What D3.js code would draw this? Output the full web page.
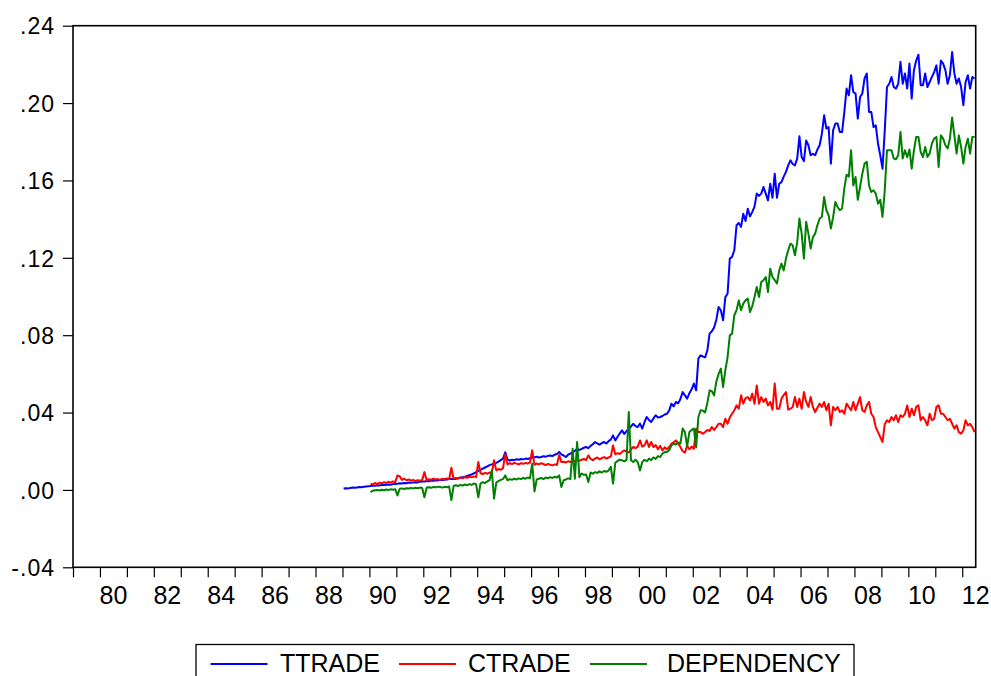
<!DOCTYPE html>
<html>
<head>
<meta charset="utf-8">
<script src="https://cdn.jsdelivr.net/npm/d3@7"></script>
<style>
  body { margin: 0; background: #fff; }
  svg { display: block; font-family: "Liberation Sans", Arial, sans-serif; }
</style>
</head>
<body>
<svg id="chart" width="991" height="676"></svg>
<script>
// Monthly observations, in thousandths (per mille); one row per calendar year.
const ttradeStart = 1989;   // TTRADE begins 1989M01
const ttrade = [
  0.7,0.9,0.8,1.0,1.2,1.1,1.3,1.5,1.4,1.6,1.8,1.9,
  2.0,2.2,2.1,2.4,2.3,2.6,2.5,2.7,2.8,2.7,3.0,3.1,
  3.2,3.4,3.3,3.6,3.5,3.8,3.7,3.9,4.0,3.9,4.2,4.3,
  4.4,4.6,4.5,4.8,4.7,5.0,4.9,5.2,5.1,5.3,5.4,5.6,
  5.6,5.8,5.7,6.0,6.3,6.6,6.8,7.2,7.6,8.0,8.6,9.2,
  9.8,10.4,11.0,11.6,12.2,12.8,13.2,13.6,14.0,14.6,15.4,16.2,
  19.5,15.8,15.2,15.6,15.4,15.9,15.6,16.0,15.8,16.2,16.0,16.4,
  16.6,16.9,17.2,16.8,17.0,17.4,17.2,17.6,17.8,17.5,18.2,18.6,
  19.6,18.4,17.8,17.0,18.2,18.8,19.5,20.2,21.3,20.6,21.2,21.8,
  22.2,21.6,22.8,23.6,24.8,24.0,23.4,24.2,24.8,24.0,25.2,26.0,
  28.2,25.6,27.5,29.2,30.8,29.0,30.4,31.6,32.8,34.2,33.0,32.5,
  34.3,31.7,35.0,37.7,36.2,35.1,37.0,38.6,37.4,37.7,38.2,39.0,
  39.4,41.0,44.6,43.2,45.5,44.8,47.0,50.6,48.9,47.2,50.0,52.0,
  55.0,51.5,67.9,69.6,69.0,68.5,72.2,80.8,82.0,84.0,88.0,94.6,
  92.9,87.7,99.7,101.4,119.6,120.5,123.9,136.8,138.0,136.0,142.8,139.0,
  145.4,141.4,143.7,146.5,153.2,152.0,153.2,156.6,153.2,149.7,158.3,151.0,
  163.5,151.0,158.3,159.1,162.0,164.4,167.8,170.4,168.5,167.8,171.3,182.8,
  172.1,170.0,180.7,178.2,173.0,173.8,173.0,176.0,178.2,184.2,193.7,186.8,
  187.6,168.7,185.9,189.4,189.4,185.0,185.0,195.4,207.5,204.0,214.4,205.7,
  204.9,192.0,203.1,204.9,212.7,215.3,195.4,195.4,187.6,188.5,179.0,173.0,
  166.1,185.9,208.3,210.0,213.5,208.3,207.5,210.0,221.3,210.0,215.3,207.5,
  220.4,202.3,217.0,222.0,225.0,209.2,209.2,215.3,208.3,210.9,213.5,216.0,
  219.5,210.0,222.0,220.4,217.0,210.0,214.4,226.4,215.3,210.0,212.7,208.3,
  198.9,210.9,214.4,207.5,213.5,212.7
];

const ctradeStart = 1990;   // CTRADE begins 1990M01
const ctrade = [
  3.3,2.8,3.6,3.0,3.8,3.4,4.0,3.6,4.2,3.8,4.4,4.0,
  7.5,7.0,5.2,5.8,5.0,5.4,4.8,5.2,4.6,5.0,4.8,5.2,
  9.2,5.0,5.6,5.2,5.8,5.4,5.6,5.2,5.8,5.5,6.0,5.6,
  11.5,5.8,6.2,5.9,6.5,6.0,6.6,6.3,6.8,6.5,7.0,6.6,
  14.4,8.6,8.2,8.8,8.4,9.0,8.6,15.3,10.1,10.8,10.4,11.2,
  18.5,13.2,13.8,13.4,14.0,13.6,13.2,13.8,13.5,14.0,13.6,14.2,
  20.5,13.0,13.6,13.2,13.8,13.4,12.8,13.5,13.0,12.7,13.2,12.9,
  18.0,14.4,14.6,14.2,14.8,14.4,15.2,14.8,15.4,15.0,15.6,16.0,
  15.4,17.9,16.0,15.4,16.2,16.8,15.8,16.4,17.0,16.2,16.8,17.2,
  23.0,18.4,19.0,18.6,19.6,20.5,19.8,19.4,21.0,22.2,21.6,22.4,
  25.6,22.4,23.0,25.6,22.2,24.8,22.2,23.2,21.0,22.8,20.4,22.0,
  21.0,22.2,23.9,24.6,25.6,24.0,22.2,20.0,19.3,22.8,21.0,22.4,
  21.3,31.7,29.9,29.9,29.0,29.9,31.0,30.5,32.5,31.0,32.5,34.2,
  34.2,32.5,36.8,34.2,37.5,39.4,41.2,43.7,42.0,48.9,44.6,47.5,
  48.0,46.3,49.8,44.6,54.0,44.6,48.0,45.5,47.2,43.7,45.5,41.5,
  55.0,42.0,42.0,47.2,49.0,50.6,41.5,42.0,42.9,48.0,42.9,47.2,
  42.0,50.6,45.5,42.9,48.0,42.9,40.3,42.5,44.6,42.9,45.5,41.2,
  44.6,33.4,42.9,41.2,42.9,40.3,41.2,39.4,44.6,42.9,41.2,45.5,
  41.2,44.6,48.0,41.2,40.3,43.7,45.5,39.4,37.7,32.5,29.9,27.3,
  24.8,34.0,36.0,35.1,37.7,36.0,38.6,35.1,38.6,37.7,39.4,43.7,
  37.7,42.0,38.6,42.9,43.7,36.0,37.7,36.0,33.4,39.4,36.0,36.8,
  42.9,43.7,39.4,39.4,37.7,36.0,36.8,34.2,31.7,33.4,29.9,29.1,
  30.8,36.0,33.4,34.2,32.5,29.9
];

const dependencyStart = 1990;   // DEPENDENCY begins 1990M01
const dependency = [
  -1.1,-0.4,-0.2,0.0,-0.3,0.1,-0.2,0.2,0.0,0.3,0.1,0.4,
  -2.8,0.6,0.8,0.5,0.9,0.7,1.0,0.8,1.1,0.9,1.2,1.0,
  -3.8,1.2,1.4,1.1,1.6,1.3,1.7,1.5,1.2,1.6,1.4,1.8,
  -5.2,2.0,2.4,2.0,2.6,2.2,2.8,2.4,3.0,2.6,3.3,3.0,
  -3.8,3.4,4.0,3.6,4.4,5.0,10.0,-4.5,3.8,4.6,5.2,5.6,
  7.5,5.0,5.6,5.2,5.8,5.4,6.0,5.6,6.2,5.8,6.4,6.0,
  13.6,-0.8,5.4,5.8,6.2,5.6,6.4,6.0,6.6,6.2,6.8,6.4,
  7.5,1.5,5.0,5.4,6.0,5.6,21.3,5.8,24.8,6.6,8.5,7.8,
  8.0,4.1,9.0,8.4,9.2,8.8,9.6,9.0,9.8,9.4,10.0,12.0,
  3.3,14.0,15.0,15.6,15.3,14.8,15.5,40.3,15.3,14.4,15.6,14.4,
  10.1,14.4,15.6,14.8,16.2,15.4,16.8,16.0,17.5,17.0,18.8,19.6,
  19.6,20.5,23.0,24.0,23.5,24.5,24.0,31.7,29.9,22.5,29.9,31.0,
  31.7,22.0,37.7,41.2,41.0,40.0,45.0,51.5,51.0,48.9,56.0,60.0,
  62.7,53.2,61.8,68.7,79.9,80.8,90.3,92.9,98.0,92.9,96.3,98.0,
  98.9,92.0,95.0,99.7,104.9,99.7,107.5,108.4,110.1,102.3,114.4,110.1,
  108.5,106.7,113.5,117.0,113.5,119.6,123.9,127.3,126.5,121.3,128.0,140.3,
  132.5,119.6,138.6,132.5,124.8,130.7,132.5,136.8,140.3,141.2,151.5,144.6,
  142.0,135.1,141.0,148.9,146.3,144.6,145.5,156.0,163.0,162.0,175.6,157.4,
  161.8,150.0,156.6,163.5,168.7,169.6,157.4,154.0,154.9,153.2,148.0,150.0,
  141.2,154.9,175.6,175.6,175.6,171.3,171.0,173.0,185.1,171.3,175.6,172.0,
  176.0,166.1,175.6,182.5,182.5,174.7,172.1,177.3,172.1,174.0,179.0,181.6,
  182.5,167.0,183.3,181.6,178.2,176.5,181.6,192.5,183.3,173.9,183.3,177.3,
  168.7,177.3,181.6,173.9,182.5,182.5
];

const seriesNames = ["TTRADE", "CTRADE", "DEPENDENCY"];
const seriesColors = ["#0000ff", "#ff0000", "#008000"];

// Axis ticks and labels
const yTicks = [-0.04, 0.00, 0.04, 0.08, 0.12, 0.16, 0.20, 0.24];
const yTickLabels = ["-.04", ".00", ".04", ".08", ".12", ".16", ".20", ".24"];
const xLabelYears = [1980, 1982, 1984, 1986, 1988, 1990, 1992, 1994, 1996, 1998, 2000, 2002, 2004, 2006, 2008, 2010, 2012];
const xLabels = ["80", "82", "84", "86", "88", "90", "92", "94", "96", "98", "00", "02", "04", "06", "08", "10", "12"];

// Sample runs 1979M01 .. 2012M06
const sampleStart = 1979, sampleEnd = 2012.5;

// ---- drawing ----
const svg = d3.select("#chart");
const plot = { left: 73, top: 25.7, right: 975.7, bottom: 567.3 };

const x = d3.scaleLinear().domain([sampleStart, sampleEnd]).range([plot.left, plot.right]);
const y = d3.scaleLinear().domain([-0.04, 0.24]).range([plot.bottom, plot.top]);

function monthly(startYear, values) {
  // month i (0-based) is placed mid-month
  return values.map((v, i) => ({ t: startYear + (i + 0.5) / 12, v: v / 1000 }));
}

const series = [
  monthly(ttradeStart, ttrade),
  monthly(ctradeStart, ctrade),
  monthly(dependencyStart, dependency)
];

// Y axis ticks + labels
const yAxis = d3.axisLeft(y)
  .tickValues(yTicks)
  .tickSize(10)
  .tickFormat((d, i) => yTickLabels[i]);
const gy = svg.append("g").attr("transform", `translate(${plot.left},0)`).call(yAxis);
gy.select(".domain").remove();
gy.selectAll(".tick line").attr("stroke", "#000").attr("stroke-width", 1.2);
gy.selectAll(".tick text")
  .attr("x", -18)
  .attr("dy", "0.36em")
  .attr("fill", "#000")
  .style("font-size", "23px")
  .style("letter-spacing", "1px")
  .style("font-family", "'Liberation Sans', Arial, sans-serif");

// X axis: ticks at every year boundary, labels centred inside even years
const yearTicks = d3.range(sampleStart, 2013);
const xAxis = d3.axisBottom(x).tickValues(yearTicks).tickSize(10).tickFormat("");
const gx = svg.append("g").attr("transform", `translate(0,${plot.bottom})`).call(xAxis);
gx.select(".domain").remove();
gx.selectAll(".tick line").attr("stroke", "#000").attr("stroke-width", 1.2);

svg.append("g").selectAll("text")
  .data(xLabelYears)
  .join("text")
  .attr("x", d => x(d + 0.5))
  .attr("y", 603.5)
  .attr("text-anchor", "middle")
  .attr("fill", "#000")
  .style("font-size", "25px")
  .text((d, i) => xLabels[i]);

// Series lines
const line = d3.line().x(d => x(d.t)).y(d => y(d.v));
svg.append("g")
  .selectAll("path")
  .data(series)
  .join("path")
  .attr("d", line)
  .attr("fill", "none")
  .attr("stroke", (d, i) => seriesColors[i])
  .attr("stroke-width", 2)
  .attr("stroke-linejoin", "round");

// Plot frame
svg.append("rect")
  .attr("x", plot.left).attr("y", plot.top)
  .attr("width", plot.right - plot.left).attr("height", plot.bottom - plot.top)
  .attr("fill", "none").attr("stroke", "#000").attr("stroke-width", 1.6);

// Legend
const legend = svg.append("g");
legend.append("rect")
  .attr("x", 196).attr("y", 644.5).attr("width", 658).attr("height", 40)
  .attr("fill", "#fff").attr("stroke", "#000").attr("stroke-width", 1.3);
const legendItems = [
  { lx: 210.5, tx: 280 },
  { lx: 399, tx: 468 },
  { lx: 590, tx: 667 }
];
legendItems.forEach((it, i) => {
  legend.append("line")
    .attr("x1", it.lx).attr("x2", it.lx + 57)
    .attr("y1", 664).attr("y2", 664)
    .attr("stroke", seriesColors[i]).attr("stroke-width", 2);
  legend.append("text")
    .attr("x", it.tx).attr("y", 672)
    .attr("fill", "#000")
    .style("font-size", "25px")
    .text(seriesNames[i]);
});
</script>
</body>
</html>
